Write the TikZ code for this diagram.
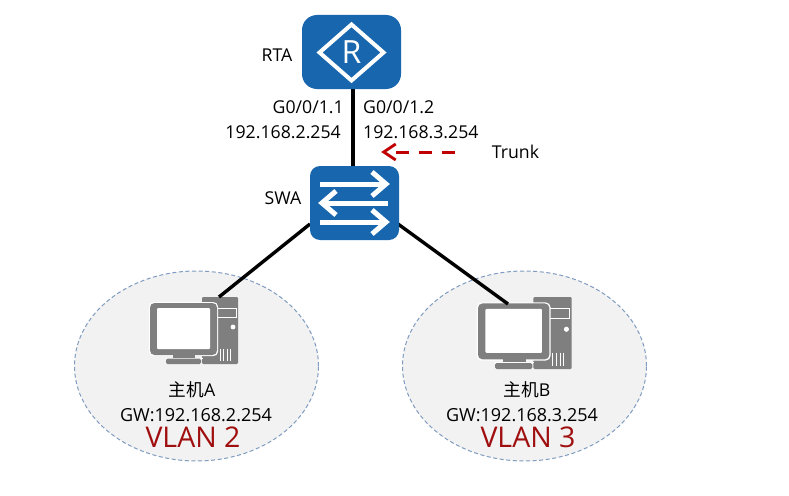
\documentclass[tikz,border=0pt]{standalone}
\usepackage{fontspec}
\setmainfont{Open Sans}
\newfontfamily\cjk{Noto Sans CJK SC}
\usetikzlibrary{arrows.meta,shapes.geometric}
\definecolor{devblue}{HTML}{1766AE}
\definecolor{pcgray}{HTML}{7F7F7F}
\definecolor{vlanfill}{HTML}{F2F2F2}
\definecolor{vlanline}{HTML}{7F9CC0}
\definecolor{vlanred}{HTML}{A00F0F}
\definecolor{trunkred}{HTML}{C00000}
\tikzset{
  device/.style={fill=devblue,inner sep=0pt,rounded corners=#1},
  vlanzone/.style={ellipse,draw=vlanline,fill=vlanfill,line width=1pt,dash pattern=on 4pt off 2.6pt,minimum width=244pt,minimum height=190pt,inner sep=0pt},
  lbl/.style={inner sep=0pt,text=black,font=\fontsize{17.7}{20}\selectfont},
  gwlbl/.style={inner sep=0pt,text=black,font=\fontsize{18}{20}\selectfont},
  vlanlbl/.style={inner sep=0pt,text=vlanred,font=\fontsize{28.5}{30}\selectfont},
  link/.style={line width=3.4pt,black},
  swarrow/.style={white,line width=5pt,miter limit=10},
  pcbody/.style={fill=pcgray,draw=none},
}
\newcommand{\pcicon}{%
  % tower
  \fill[pcbody,rounded corners=1.2pt] (52,0) rectangle (88,67);
  \draw[white,line width=1pt] (67,11) rectangle (86,20);
  \fill[white] (83,30) circle (2.4);
  \foreach \vx in {70,73.5,77,80.5} {\draw[white,line width=1pt] (\vx,52) -- (\vx,64);}
  % monitor
  \fill[white,rounded corners=5pt] (-1.2,5) rectangle (68.2,59.2);
  \fill[pcbody,rounded corners=4.5pt] (0,6) rectangle (67,58);
  \fill[white,rounded corners=1pt] (7,11) rectangle (60,52);
  \fill[pcbody] (23,58) rectangle (45,61.5);
  \fill[white] (16,60.5) rectangle (53,61.2);
  \fill[pcbody,rounded corners=1.5pt] (16,61.5) rectangle (51,67);
}
\begin{document}
\begin{tikzpicture}[x=1pt,y=-1pt]
\useasboundingbox[fill=white] (0,0) rectangle (789,495);
% zones
\node[vlanzone] (zoneA) at (196.5,366) {};
\node[vlanzone] (zoneB) at (524.5,366) {};
% ports
\coordinate (rtaport) at (353,88);
\coordinate (swatop) at (353,167);
\coordinate (swaleft) at (310,224);
\coordinate (swaright) at (398,224);
\coordinate (hostAport) at (219,297);
\coordinate (hostBport) at (508,304);
% hosts
\begin{scope}[shift={(150,297)}]
  \pcicon
\end{scope}
\begin{scope}[shift={(478,297)},x=1.065pt,y=-1.075pt]
  \pcicon
\end{scope}
% connectors
\draw[link] (rtaport) -- (swatop);
\draw[link] (swaleft) -- (hostAport);
\draw[link] (swaright) -- (hostBport);
% router
\node[device=15pt,minimum width=99pt,minimum height=74pt] (rta) at (351.5,52) {};
\draw[white,line width=4pt,miter limit=10] (319.5,52.5) -- (351.5,24.5) -- (383.5,52.5) -- (351.5,80.5) -- cycle;
\node[inner sep=0pt,text=white,font=\fontsize{32}{34}\selectfont] (rlet) at (351.5,52.5) {R};
% switch
\node[device=10pt,minimum width=89pt,minimum height=74pt] (swa) at (354.5,203) {};
\draw[swarrow] (320,184) -- (386,184);
\draw[swarrow] (372,172) -- (386,184) -- (372,196);
\draw[swarrow] (388,203) -- (322,203);
\draw[swarrow] (336,191) -- (322,203) -- (336,215);
\draw[swarrow] (320,222) -- (386,222);
\draw[swarrow] (372,210) -- (386,222) -- (372,234);
% labels
\node[lbl] (lrta) at (277,55) {RTA};
\node[lbl] (lswa) at (283,198) {SWA};
\node[lbl,anchor=east] (g1) at (344,107) {G0/0/1.1};
\node[lbl,anchor=east] (ip2) at (341,132) {192.168.2.254};
\node[lbl,anchor=west] (g2) at (363,107) {G0/0/1.2};
\node[lbl,anchor=west] (ip3) at (363,132) {192.168.3.254};
\node[lbl] (ltrunk) at (515.5,152) {Trunk};
\coordinate (trunktail) at (455,152);
\node[inner sep=0pt,minimum size=0pt] (trunktip) at (381,152) {};
\draw[trunkred,line width=3pt,dash pattern=on 13pt off 10pt,-{Straight Barb[length=12pt,width=16pt,line width=2.8pt]}] (trunktail) -- (trunktip);
\node[lbl] (nameA) at (192,390) {{\cjk 主机}A};
\node[gwlbl] (gwA) at (196,415) {GW:192.168.2.254};
\node[vlanlbl] (vlanA) at (193,437) {VLAN 2};
\node[lbl] (nameB) at (527,390) {{\cjk 主机}B};
\node[gwlbl] (gwB) at (522,415) {GW:192.168.3.254};
\node[vlanlbl] (vlanB) at (528,437) {VLAN 3};
\end{tikzpicture}
\end{document}
